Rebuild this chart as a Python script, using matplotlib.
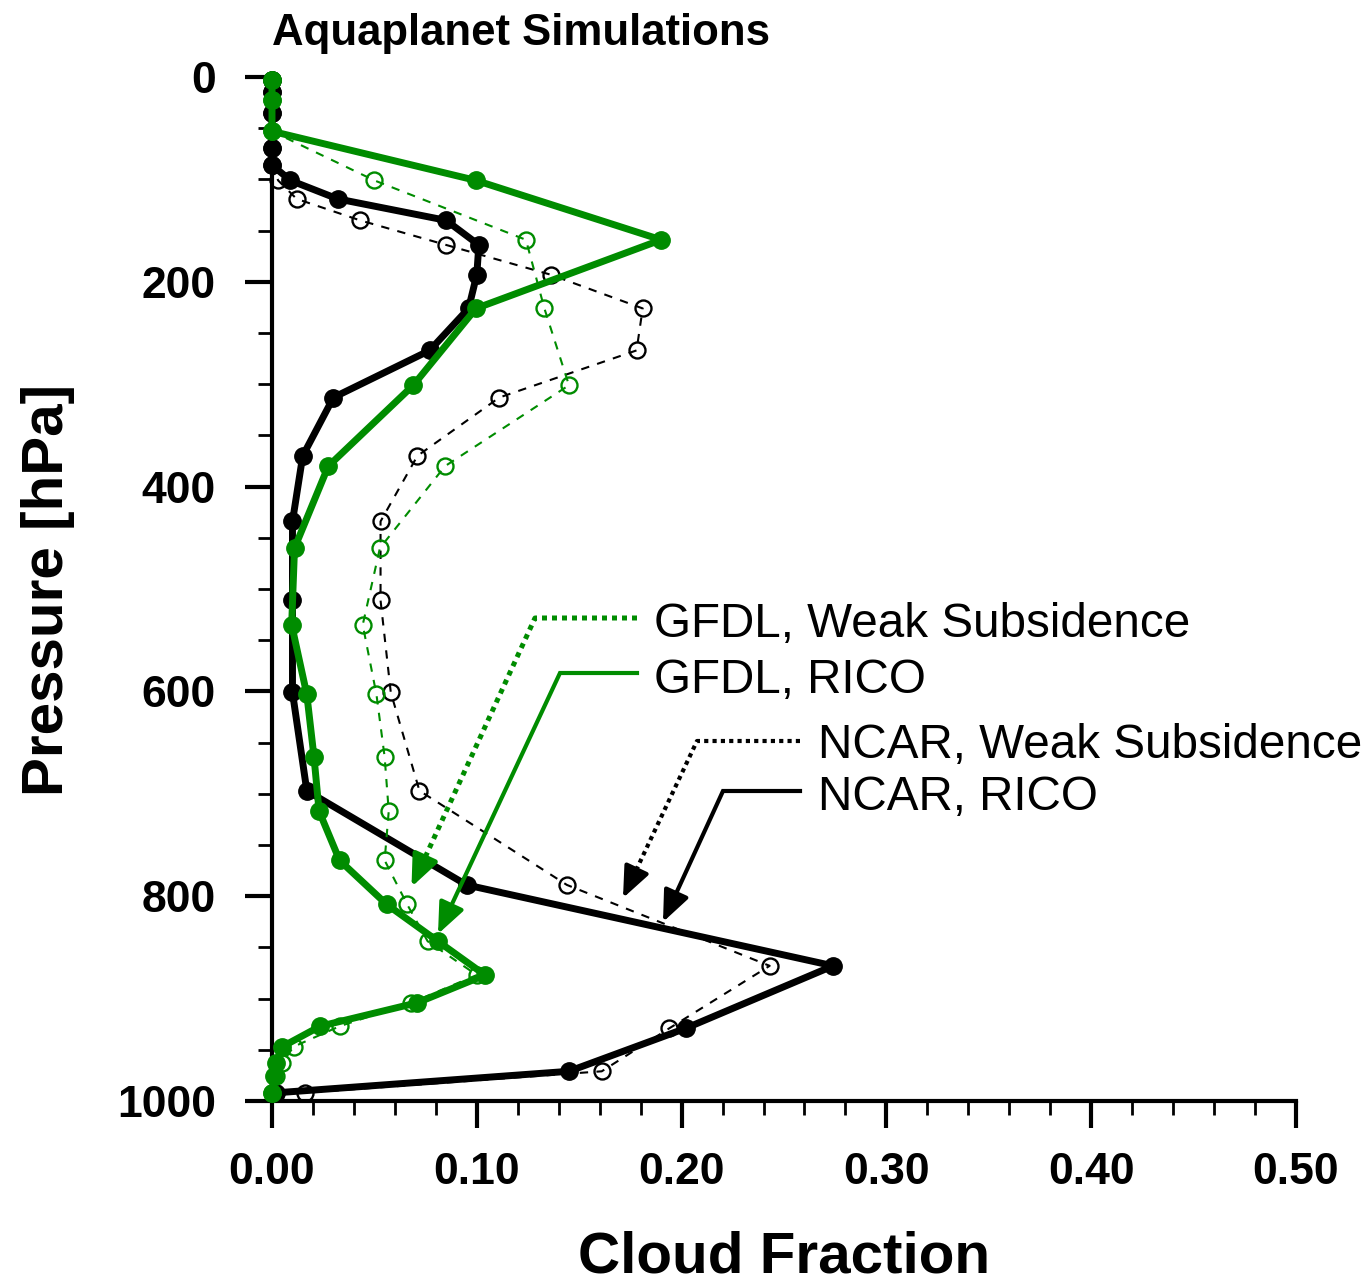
import matplotlib
matplotlib.use('Agg')
import matplotlib.pyplot as plt
import numpy as np
from matplotlib.ticker import MultipleLocator

plt.rcParams['font.family'] = ['Liberation Sans', 'DejaVu Sans']

# ---------------- data ----------------
ncar_p = [3, 15, 35, 69, 86, 101, 119, 140, 164, 193, 226, 267, 313, 370,
          434, 511, 601, 697, 789, 868, 929, 971, 992]
ncar_rico = [0.0, 0.0, 0.0, 0.0, 0.0, 0.009, 0.032, 0.085, 0.101, 0.100,
             0.096, 0.077, 0.030, 0.015, 0.010, 0.010, 0.010, 0.017, 0.095,
             0.274, 0.202, 0.145, 0.002]
ncar_weak = [0.0, 0.0, 0.0, 0.0, 0.0, 0.003, 0.012, 0.043, 0.085, 0.136,
             0.181, 0.178, 0.111, 0.071, 0.053, 0.053, 0.058, 0.072, 0.144,
             0.243, 0.194, 0.161, 0.016]

gfdl_p = [3, 22, 53, 101, 159, 226, 301, 380, 460, 535, 603, 664, 717, 765,
          808, 844, 877, 904, 927, 947, 963, 976, 992]
gfdl_rico = [0.0, 0.0, 0.0, 0.0996, 0.190, 0.0996, 0.069, 0.0275, 0.011,
             0.0096, 0.017, 0.0205, 0.023, 0.033, 0.056, 0.081, 0.104, 0.071,
             0.0235, 0.005, 0.002, 0.001, 0.0]
gfdl_weak = [0.0, 0.0, 0.0, 0.050, 0.124, 0.133, 0.145, 0.0845, 0.0527,
             0.0443, 0.051, 0.055, 0.057, 0.055, 0.066, 0.076, 0.100, 0.068,
             0.033, 0.0105, 0.005, 0.002, 0.0]

xticks = [0.0, 0.1, 0.2, 0.3, 0.4, 0.5]
xticklabels = ['0.00', '0.10', '0.20', '0.30', '0.40', '0.50']
yticks = [0, 200, 400, 600, 800, 1000]
yticklabels = ['0', '200', '400', '600', '800', '1000']

labels = ['GFDL, Weak Subsidence', 'GFDL, RICO',
          'NCAR, Weak Subsidence', 'NCAR, RICO']

GREEN = '#008c00'
BLACK = '#000000'

# ---------------- figure ----------------
W, H = 1370, 1286
fig = plt.figure(figsize=(W / 100, H / 100), dpi=100)
ax = fig.add_axes([272 / W, 1 - 1101 / H, 1024 / W, 1024 / H])

ax.set_xlim(0, 0.5)
ax.set_ylim(1000, 0)

dash = (0, (4, 4))
ax.plot(ncar_weak, ncar_p, color=BLACK, lw=1.5, ls=dash, marker='o', ms=11.5,
        mfc='none', mec=BLACK, mew=1.7, clip_on=False, zorder=3)
ax.plot(ncar_rico, ncar_p, color=BLACK, lw=5, marker='o', ms=12.5,
        mfc=BLACK, mec=BLACK, clip_on=False, zorder=4)
ax.plot(gfdl_weak, gfdl_p, color=GREEN, lw=1.5, ls=dash, marker='o', ms=11.5,
        mfc='none', mec=GREEN, mew=1.7, clip_on=False, zorder=5)
ax.plot(gfdl_rico, gfdl_p, color=GREEN, lw=5, marker='o', ms=12.5,
        mfc=GREEN, mec=GREEN, clip_on=False, zorder=6)

# spines & ticks
for s in ['top', 'right']:
    ax.spines[s].set_visible(False)
for s in ['left', 'bottom']:
    ax.spines[s].set_linewidth(3)
    ax.spines[s].set_zorder(2.5)

ax.set_xticks(xticks)
ax.set_xticklabels(xticklabels, fontsize=32, fontweight='bold')
ax.set_yticks(yticks)
ax.set_yticklabels(yticklabels, fontsize=32, fontweight='bold')
ax.xaxis.set_minor_locator(MultipleLocator(0.02))
ax.yaxis.set_minor_locator(MultipleLocator(50))
ax.tick_params(which='major', direction='out', length=19.5, width=3)
ax.tick_params(which='minor', direction='out', length=10, width=2)
ax.tick_params(axis='x', which='major', pad=17)
ax.tick_params(axis='y', which='major', pad=21)

# labels / title
fig.text(272 / W, 1 - 45 / H, 'Aquaplanet Simulations', fontsize=31.5,
         fontweight='bold', ha='left', va='baseline')
fig.text(784 / W, 0.001, 'Cloud Fraction', fontsize=42,
         fontweight='bold', ha='center', va='bottom')
fig.text(48 / W, 1 - 590 / H, 'Pressure [hPa]', fontsize=42,
         fontweight='bold', ha='center', va='center', rotation=90)

# ---------------- annotation arrows ----------------
def px2data(px, py):
    return (px - 272) / 2048.0, (py - 77) / 1.024


annots = [
    # label, text (px,py baseline), start px, corner px, tip px, color, style, lw
    (labels[0], (654, 637), (637, 618), (535, 618), (411.5, 887), GREEN, 'dot', 3.6),
    (labels[1], (654, 693), (637, 673), (560, 673), (438, 934), GREEN, 'solid', 3.0),
    (labels[2], (818, 758), (800, 741), (697, 741), (623, 898), BLACK, 'dot', 3.0),
    (labels[3], (818, 810), (800, 791), (723, 791), (663, 922), BLACK, 'solid', 3.0),
]

for lab, tpos, start, corner, tip, col, sty, lw in annots:
    tx, ty = px2data(*tpos)
    ax.text(tx, ty, lab, fontsize=34.3, color=BLACK, ha='left', va='baseline',
            zorder=10)
    sx, sy = px2data(*start)
    cx, cy = px2data(*corner)
    ex, ey = px2data(*tip)
    # point ~26 px before tip (pixel geometry)
    dpx = np.hypot(tip[0] - corner[0], tip[1] - corner[1])
    f = 26.0 / dpx
    bx = ex - f * (ex - cx)
    by = ey - f * (ey - cy)
    if sty == 'dot':
        ax.plot([sx, cx, bx], [sy, cy, by], color=col, lw=lw,
                ls=(0, (1, 1)), dash_capstyle='butt', solid_joinstyle='miter',
                clip_on=False, zorder=8)
    else:
        ax.plot([sx, cx, bx], [sy, cy, by], color=col, lw=lw,
                solid_joinstyle='miter', clip_on=False, zorder=8)
    ax.annotate('', xy=(ex, ey), xytext=(bx, by),
                arrowprops=dict(arrowstyle='-|>,head_length=1.9,head_width=0.8',
                                mutation_scale=10, lw=lw, color=col,
                                shrinkA=0, shrinkB=0),
                zorder=9, annotation_clip=False)

fig.savefig('out.png', dpi=100)
